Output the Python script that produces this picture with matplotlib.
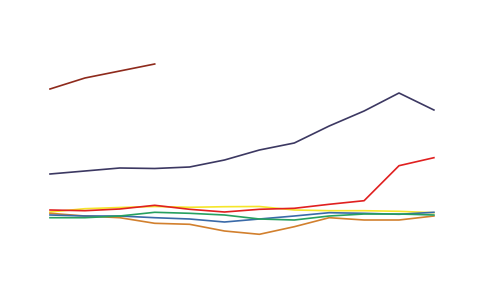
import matplotlib
matplotlib.use("Agg")
import matplotlib.pyplot as plt

periods = list(range(12))

brown = [193, 204, 211, 218]
navy = [108, 111, 114, 113.5, 115, 122, 132, 139, 156, 171, 189, 172]
red = [72, 71.3, 73, 76.7, 72.7, 70, 72.7, 73.7, 77.7, 81.3, 116.3, 124.3]
yellow = [70, 73.3, 74.5, 75.5, 74.7, 75.3, 75.5, 72, 71.3, 71.3, 70.7, 69.3]
green = [64.3, 64.3, 66, 69.7, 68.7, 67, 63, 62, 66, 68, 68, 67]
blue = [67, 66, 66, 64.3, 63, 60, 63, 66, 69.3, 68.7, 67.7, 69.7]
orange = [68.7, 66, 64.3, 58.7, 57.7, 51, 47.7, 55.3, 64.3, 62, 62, 66]

fig = plt.figure(figsize=(4.99, 2.82), dpi=100)
ax = fig.add_axes([0, 0, 1, 1])

lw = 1.2
ax.plot(periods, yellow, color="#f5e62a", lw=lw)
ax.plot(periods, orange, color="#d2802e", lw=lw)
ax.plot(periods, blue, color="#3a6aa8", lw=lw)
ax.plot(periods, green, color="#27a060", lw=lw)
ax.plot(periods, red, color="#e02020", lw=lw)
ax.plot(periods, navy, color="#3c3862", lw=lw)
ax.plot(periods[:len(brown)], brown, color="#8e2a1c", lw=lw)

ax.set_xlim(-50 / 34.9, 449 / 34.9)
ax.set_ylim(0, 282)
ax.axis("off")

fig.savefig("out.png", dpi=100)
